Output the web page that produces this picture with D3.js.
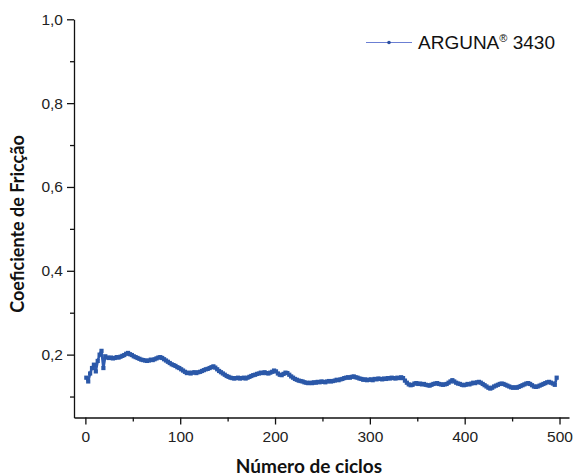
<!DOCTYPE html>
<html>
<head>
<meta charset="utf-8">
<script src="https://cdn.jsdelivr.net/npm/d3@7"></script>
<style>
  html, body { margin: 0; padding: 0; background: #fff; }
  svg { display: block; }
  .tick text { font-family: "Liberation Sans", Arial, sans-serif; font-size: 15.5px; fill: #222; }
  .axis path, .axis line { stroke: #111; stroke-width: 1.3px; }
  .title { font-family: Lato, "Open Sans", sans-serif; font-weight: bold; fill: #111; }
</style>
</head>
<body>
<svg id="chart" width="576" height="476"></svg>
<script>
// Friction coefficient, sampled every second cycle (1, 3, 5, ... 497)
const seriesName = "ARGUNA";
const seriesSuffix = " 3430";
const cycleStart = 1;
const cycleStep = 2;
const friction = [
  0.145, 0.136, 0.155, 0.168, 0.176, 0.160, 0.185, 0.200, 0.209, 0.168,
  0.196, 0.193, 0.192, 0.193, 0.191, 0.192, 0.194, 0.193, 0.195, 0.197,
  0.199, 0.202, 0.204, 0.201, 0.199, 0.196, 0.194, 0.192, 0.190, 0.188,
  0.187, 0.186, 0.185, 0.186, 0.188, 0.187, 0.189, 0.191, 0.193, 0.194,
  0.192, 0.189, 0.186, 0.183, 0.180, 0.177, 0.175, 0.173, 0.170, 0.168,
  0.165, 0.162, 0.159, 0.156, 0.157, 0.155, 0.157, 0.158, 0.156, 0.158,
  0.159, 0.161, 0.163, 0.165, 0.166, 0.168, 0.170, 0.172, 0.169, 0.165,
  0.161, 0.158, 0.155, 0.152, 0.149, 0.147, 0.145, 0.144, 0.143, 0.144,
  0.145, 0.143, 0.144, 0.145, 0.143, 0.145, 0.147, 0.149, 0.151, 0.152,
  0.154, 0.155, 0.157, 0.156, 0.158, 0.156, 0.155, 0.157, 0.159, 0.162,
  0.160, 0.155, 0.152, 0.151, 0.154, 0.157, 0.156, 0.152, 0.148, 0.145,
  0.142, 0.140, 0.138, 0.137, 0.136, 0.134, 0.133, 0.132, 0.133, 0.132,
  0.134, 0.133, 0.135, 0.134, 0.136, 0.135, 0.134, 0.136, 0.137, 0.136,
  0.137, 0.138, 0.140, 0.139, 0.141, 0.142, 0.144, 0.145, 0.146, 0.145,
  0.147, 0.148, 0.146, 0.145, 0.143, 0.142, 0.140, 0.141, 0.139, 0.140,
  0.141, 0.139, 0.142, 0.141, 0.143, 0.142, 0.141, 0.143, 0.142, 0.144,
  0.143, 0.145, 0.144, 0.143, 0.145, 0.144, 0.146, 0.144, 0.138, 0.133,
  0.129, 0.127, 0.128, 0.131, 0.132, 0.130, 0.131, 0.129, 0.130, 0.128,
  0.127, 0.126, 0.128, 0.130, 0.131, 0.132, 0.130, 0.129, 0.128, 0.129,
  0.130, 0.133, 0.136, 0.139, 0.136, 0.133, 0.131, 0.130, 0.128, 0.127,
  0.128, 0.130, 0.129, 0.131, 0.133, 0.132, 0.134, 0.135, 0.133, 0.130,
  0.127, 0.124, 0.121, 0.119, 0.121, 0.124, 0.126, 0.128, 0.130, 0.131,
  0.130, 0.128, 0.126, 0.124, 0.122, 0.121, 0.122, 0.121, 0.123, 0.125,
  0.127, 0.129, 0.131, 0.132, 0.130, 0.127, 0.124, 0.123, 0.124, 0.126,
  0.128, 0.130, 0.132, 0.134, 0.135, 0.133, 0.131, 0.128, 0.145
];
const xTicks = [0, 100, 200, 300, 400, 500];
const yTicks = [0.2, 0.4, 0.6, 0.8, 1.0];
const xMinor = [50, 150, 250, 350, 450];
const yMinor = [0.1, 0.3, 0.5, 0.7, 0.9];
const xLabel = "Número de ciclos";
const yLabel = "Coeficiente de Fricção";

const data = friction.map((v, i) => ({ cycle: cycleStart + i * cycleStep, value: v }));

const svg = d3.select("#chart");
const plotLeft = 74, plotRight = 569, plotTop = 19.3, plotBottom = 417.5;

const x = d3.scaleLinear().domain([-12, 510]).range([plotLeft, plotRight]);
const y = d3.scaleLinear().domain([0.05, 1.0]).range([plotBottom, plotTop]);
const fmt = d => d3.format(".1f")(d).replace(".", ",");

svg.append("g").attr("class", "axis")
  .attr("transform", `translate(0,${plotBottom})`)
  .call(d3.axisBottom(x).tickValues(xTicks).tickSize(7).tickSizeOuter(0).tickPadding(6));
svg.append("g").attr("class", "axis")
  .attr("transform", `translate(0,${plotBottom})`)
  .call(d3.axisBottom(x).tickValues(xMinor).tickSize(4).tickSizeOuter(0).tickFormat(""))
  .select(".domain").remove();

svg.append("g").attr("class", "axis")
  .attr("transform", `translate(${plotLeft},0)`)
  .call(d3.axisLeft(y).tickValues(yTicks).tickSize(7).tickSizeOuter(0).tickPadding(4).tickFormat(fmt));
svg.append("g").attr("class", "axis")
  .attr("transform", `translate(${plotLeft},0)`)
  .call(d3.axisLeft(y).tickValues(yMinor).tickSize(4).tickSizeOuter(0).tickFormat(""))
  .select(".domain").remove();

// series line and markers
const line = d3.line().x(d => x(d.cycle)).y(d => y(d.value));
svg.append("path").datum(data)
  .attr("d", line)
  .attr("fill", "none")
  .attr("stroke", "#2f5cb0")
  .attr("stroke-width", 2.6)
  .attr("stroke-linejoin", "round");

svg.append("g").selectAll("rect").data(data).join("rect")
  .attr("x", d => x(d.cycle) - 2.1)
  .attr("y", d => y(d.value) - 2.1)
  .attr("width", 4.2).attr("height", 4.2)
  .attr("fill", "#2b58a8");

// legend
const lg = svg.append("g");
lg.append("line").attr("x1", 366).attr("x2", 412).attr("y1", 42.5).attr("y2", 42.5)
  .attr("stroke", "#6b7fd3").attr("stroke-width", 1.2);
lg.append("circle").attr("cx", 389).attr("cy", 42.5).attr("r", 1.8).attr("fill", "#2b4fa0");
const lt = lg.append("text").attr("x", 418).attr("y", 49)
  .attr("font-family", "'Liberation Sans', Arial, sans-serif").attr("font-size", 19).attr("fill", "#111");
lt.append("tspan").text(seriesName);
lt.append("tspan").text("®").attr("font-size", 11).attr("dy", -7);
lt.append("tspan").text(seriesSuffix).attr("dy", 7);

// axis titles
svg.append("text").attr("class", "title").attr("font-size", 19)
  .attr("x", 309).attr("y", 473).attr("text-anchor", "middle").text(xLabel);
svg.append("text").attr("class", "title").attr("font-size", 18)
  .attr("transform", "translate(24,224) rotate(-90)")
  .attr("text-anchor", "middle").text(yLabel);
</script>
</body>
</html>
